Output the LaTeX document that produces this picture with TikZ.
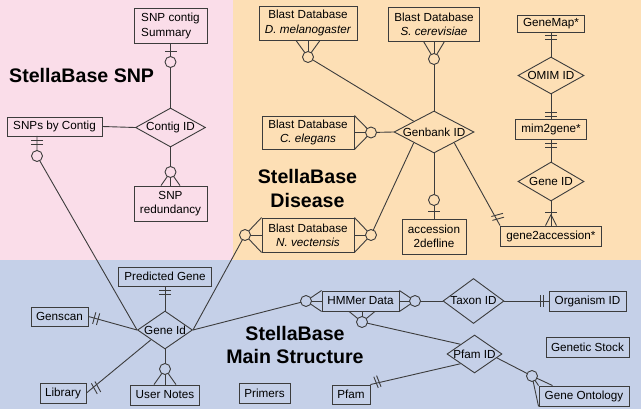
\documentclass[tikz,border=0pt]{standalone}
\usepackage{fontspec}
\setmainfont{Liberation Sans}
\usetikzlibrary{shapes.geometric,calc}
\definecolor{pinkbg}{RGB}{250,221,233}
\definecolor{orangebg}{RGB}{253,223,181}
\definecolor{bluebg}{RGB}{197,208,232}
\definecolor{linec}{RGB}{60,60,60}
\pgfdeclarelayer{back}\pgfdeclarelayer{mid}\pgfsetlayers{back,mid,main}
\newcommand\boxfont{\fontsize{11.7}{14.3}\selectfont}
\newcommand\ttlfont{\fontsize{19.6}{23.5}\selectfont\bfseries}
\newcommand\reltxt[1]{\makebox[0pt]{#1}}
\newcommand\erbar[3]{\coordinate (tmpbar) at ($(#1)!#3!(#2)$);
  \draw[conn] ($(tmpbar)!6pt!90:(#2)$) -- ($(tmpbar)!6pt!-90:(#2)$);}
\begin{document}
\begin{tikzpicture}[x=1pt,y=-1pt,
  ent/.style={draw=linec, line width=0.9pt, inner sep=1pt, font=\boxfont, align=center},
  rel/.style={diamond, draw=linec, line width=0.9pt, inner sep=0pt, font=\boxfont},
  conn/.style={draw=linec, line width=0.9pt},
  ocirc/.style={circle, draw=linec, line width=0.9pt, minimum size=11pt, inner sep=0pt},
  ttl/.style={font=\ttlfont, inner sep=0pt, text=black}]
\begin{pgfonlayer}{back}
\fill[pinkbg] (0,0) rectangle (233,260);
\fill[orangebg] (233,0) rectangle (641,260);
\fill[bluebg] (0,260) rectangle (641,409);
\end{pgfonlayer}
\useasboundingbox (0,0) rectangle (641,409);

% titles
\node[ttl, anchor=west] (tSNP) at (9,75) {StellaBase SNP};
\node[ttl, align=center] (tDis) at (307.5,188.5) {StellaBase\\Disease};
\node[ttl, align=center] (tMain) at (295,345) {StellaBase\\Main Structure};

% SNP
\node[ent, minimum width=73pt, minimum height=35pt, align=left] (SNPsum) at (170.5,26) {SNP contig\\Summary};
\node[rel, minimum width=70pt, minimum height=39pt] (Contig) at (170.5,127.5) {\reltxt{Contig ID}};
\node[ent, minimum width=95pt, minimum height=19pt] (SNPby) at (54.5,126.5) {SNPs by Contig};
\node[ent, minimum width=73pt, minimum height=35pt] (SNPred) at (170.5,203.5) {SNP\\redundancy};

% Disease
\node[ent, minimum width=98pt, minimum height=34pt] (Dmel) at (308,23) {Blast Database\\\textit{D. melanogaster}};
\node[ent, minimum width=91pt, minimum height=34pt] (Scer) at (434,24) {Blast Database\\\textit{S. cerevisiae}};
\node[ent, minimum width=92pt, minimum height=33pt] (Cel) at (308,132.5) {Blast Database\\\textit{C. elegans}};
\node[ent, minimum width=92pt, minimum height=34pt] (Nvec) at (308,235) {Blast Database\\\textit{N. vectensis}};
\node[rel, minimum width=80pt, minimum height=42pt] (Genbank) at (434,132) {\reltxt{Genbank ID}};
\node[ent, minimum width=64pt, minimum height=35pt] (Acc) at (434,236.5) {accession\\2defline};
\node[ent, minimum width=101pt, minimum height=20pt] (G2A) at (551,236) {gene2accession*};
\node[ent, minimum width=67pt, minimum height=17pt] (GeneMap) at (551,24) {GeneMap*};
\node[rel, minimum width=66pt, minimum height=37pt] (OMIM) at (551,75.5) {\reltxt{OMIM ID}};
\node[ent, minimum width=71pt, minimum height=20pt] (Mim) at (551,129) {mim2gene*};
\node[rel, minimum width=66pt, minimum height=39pt] (GeneID) at (551,181.5) {\reltxt{Gene ID}};

% Main
\node[rel, minimum width=55pt, minimum height=38pt] (GeneId) at (165,330) {\reltxt{Gene Id}};
\node[ent, minimum width=93pt, minimum height=19pt] (Pred) at (165,276.5) {Predicted Gene};
\node[ent, minimum width=57pt, minimum height=19pt] (Genscan) at (59.5,316.5) {Genscan};
\node[ent, minimum width=46pt, minimum height=20pt] (Library) at (63,393) {Library};
\node[ent, minimum width=69pt, minimum height=20pt] (UNotes) at (165,395) {User Notes};
\node[ent, minimum width=51pt, minimum height=20pt] (Primers) at (264.5,393) {Primers};
\node[ent, minimum width=77pt, minimum height=20pt] (HMMer) at (360.5,301) {HMMer Data};
\node[rel, minimum width=61pt, minimum height=45pt] (Taxon) at (473.5,301) {\reltxt{Taxon ID}};
\node[ent, minimum width=77pt, minimum height=20pt] (Organism) at (587.5,301) {Organism ID};
\node[rel, minimum width=55pt, minimum height=38pt] (PfamID) at (474.5,354) {\reltxt{Pfam ID}};
\node[ent, minimum width=38pt, minimum height=19pt] (Pfam) at (351,394.5) {Pfam};
\node[ent, minimum width=90pt, minimum height=20pt] (GOnt) at (584,396) {Gene Ontology};
\node[ent, minimum width=83pt, minimum height=20pt] (GStock) at (587.5,347) {Genetic Stock};

% optional-marker circles
\node[ocirc, fill=pinkbg] (cSum) at (170.5,62) {};
\node[ocirc, fill=pinkbg] (cBy) at (37,156) {};
\node[ocirc, fill=pinkbg] (cRed) at (170.5,172) {};
\node[ocirc, fill=orangebg] (cDmel) at (308,57) {};
\node[ocirc, fill=orangebg] (cScer) at (434,59) {};
\node[ocirc, fill=orangebg] (cCel) at (371,132.5) {};
\node[ocirc, fill=orangebg] (cNvecL) at (245,235) {};
\node[ocirc, fill=orangebg] (cNvecR) at (371,235) {};
\node[ocirc, fill=orangebg] (cAcc) at (434,200) {};
\node[ocirc, fill=bluebg] (cUN) at (165,369) {};
\node[ocirc, fill=bluebg] (cHL) at (306,301) {};
\node[ocirc, fill=bluebg] (cHR) at (415,301) {};
\node[ocirc, fill=bluebg] (cHB) at (362,322) {};
\node[ocirc, fill=bluebg] (cGO) at (532,376) {};
\coordinate (byFoot) at (37,136);

\begin{pgfonlayer}{mid}
% SNP
\draw[conn] (SNPsum.south) -- (Contig.north);
\erbar{SNPsum.south}{Contig.north}{8pt}
\draw[conn] (SNPby.east) -- (Contig.west);
\draw[conn] (Contig.south) -- (cRed.center);
\foreach \dx in {-9.5,0,9.5} \draw[conn] (cRed.center) -- ($(SNPred.north)+(\dx,0)$);
\draw[conn] (byFoot) -- (cBy.center) -- (GeneId.west);
\erbar{byFoot}{cBy.center}{4pt}
\erbar{byFoot}{cBy.center}{8pt}

% Disease
\draw[conn] (cDmel.center) -- ($(Genbank.west)!0.5!(Genbank.north)$);
\foreach \dx in {-12,0,12} \draw[conn] (cDmel.center) -- ($(Dmel.south)+(\dx,0)$);
\draw[conn] (cScer.center) -- (Genbank.north);
\foreach \dx in {-10.5,0,10.5} \draw[conn] (cScer.center) -- ($(Scer.south)+(\dx,0)$);
\draw[conn] (cCel.center) -- (Genbank.west);
\draw[conn] (Cel.north east) -- (cCel.center) -- (Cel.south east);
\draw[conn] (cCel.center) -- (Cel.east);
\draw[conn] (cNvecR.center) -- ($(Genbank.west)!0.5!(Genbank.south)$);
\draw[conn] (Nvec.north east) -- (cNvecR.center) -- (Nvec.south east);
\draw[conn] (cNvecR.center) -- (Nvec.east);
\draw[conn] (cNvecL.center) -- (GeneId.east);
\draw[conn] (Nvec.north west) -- (cNvecL.center) -- (Nvec.south west);
\draw[conn] (cNvecL.center) -- (Nvec.west);
\draw[conn] (Genbank.south) -- (Acc.north);
\erbar{Acc.north}{Genbank.south}{7pt}
\draw[conn] ($(Genbank.south)!0.5!(Genbank.east)$) -- (G2A.north west);
\erbar{G2A.north west}{Genbank.east}{7pt}
\erbar{G2A.north west}{Genbank.east}{11pt}
\draw[conn] (GeneMap.south) -- (OMIM.north);
\erbar{GeneMap.south}{OMIM.north}{3pt}
\erbar{GeneMap.south}{OMIM.north}{7pt}
\draw[conn] (OMIM.south) -- (Mim.north);
\erbar{Mim.north}{OMIM.south}{2.5pt}
\erbar{Mim.north}{OMIM.south}{6.5pt}
\draw[conn] (Mim.south) -- (GeneID.north);
\erbar{Mim.south}{GeneID.north}{4pt}
\erbar{Mim.south}{GeneID.north}{8pt}
\draw[conn] (GeneID.south) -- (G2A.north);
\erbar{G2A.north}{GeneID.south}{13pt}
\coordinate (g2aApex) at ($(G2A.north)+(0,-11)$);
\foreach \dx in {-5.5,5.5} \draw[conn] (g2aApex) -- ($(G2A.north)+(\dx,0)$);

% Main
\draw[conn] (Pred.south) -- (GeneId.north);
\erbar{Pred.south}{GeneId.north}{4pt}
\erbar{Pred.south}{GeneId.north}{8pt}
\draw[conn] (Genscan.east) -- (GeneId.west);
\erbar{Genscan.east}{GeneId.west}{6pt}
\erbar{Genscan.east}{GeneId.west}{10pt}
\draw[conn] (Library.east) -- ($(GeneId.west)!0.5!(GeneId.south)$);
\erbar{Library.east}{GeneId.south}{9pt}
\erbar{Library.east}{GeneId.south}{13pt}
\draw[conn] (GeneId.south) -- (cUN.center);
\foreach \dx in {-11,0,11} \draw[conn] (cUN.center) -- ($(UNotes.north)+(\dx,0)$);
\draw[conn] (GeneId.east) -- (cHL.center);
\draw[conn] (HMMer.north west) -- (cHL.center) -- (HMMer.south west);
\draw[conn] (cHL.center) -- (HMMer.west);
\draw[conn] (cHR.center) -- (Taxon.west);
\draw[conn] (HMMer.north east) -- (cHR.center) -- (HMMer.south east);
\draw[conn] (cHR.center) -- (HMMer.east);
\draw[conn] (cHB.center) -- ($(PfamID.west)!0.5!(PfamID.north)$);
\foreach \dx in {-13,0,13} \draw[conn] (cHB.center) -- ($(HMMer.south)+(\dx+1.5,0)$);
\draw[conn] (Taxon.east) -- (Organism.west);
\erbar{Organism.west}{Taxon.east}{5pt}
\erbar{Organism.west}{Taxon.east}{8pt}
\draw[conn] (Pfam.north east) -- ($(PfamID.west)!0.5!(PfamID.south)$);
\erbar{Pfam.north east}{PfamID.west}{6pt}
\erbar{Pfam.north east}{PfamID.west}{9pt}
\draw[conn] ($(PfamID.east)!0.2!(PfamID.south)$) -- (cGO.center);
\draw[conn] (GOnt.south west) -- (cGO.center) -- ($(GOnt.north west)+(14,0)$);
\draw[conn] (cGO.center) -- (GOnt.north west);
\end{pgfonlayer}
\end{tikzpicture}
\end{document}
